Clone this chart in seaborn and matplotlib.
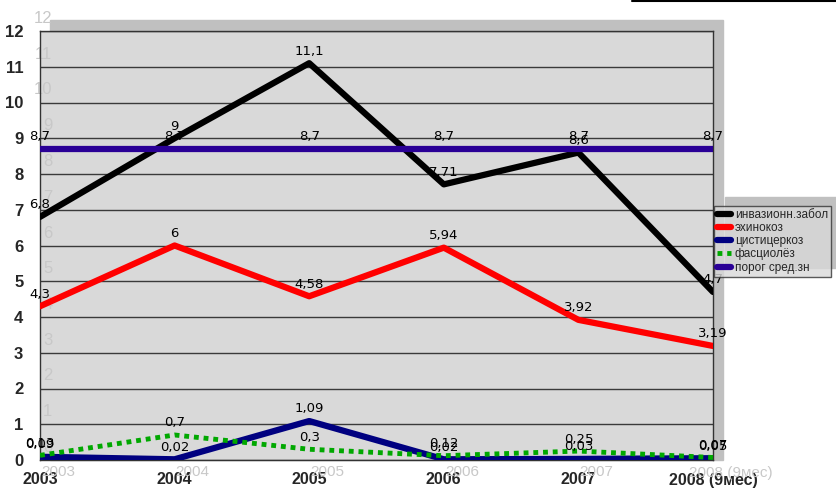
import numpy as np
import pandas as pd
import matplotlib
matplotlib.use("Agg")
import matplotlib.pyplot as plt
import seaborn as sns
from matplotlib.patches import Rectangle
from matplotlib.lines import Line2D

years = ["2003", "2004", "2005", "2006", "2007", "2008 (9мес)"]
invaz = [6.8, 9, 11.1, 7.71, 8.6, 4.7]
echino = [4.3, 6, 4.58, 5.94, 3.92, 3.19]
cysti = [0.09, 0.02, 1.09, 0.02, 0.03, 0.05]
fasci = [0.13, 0.7, 0.3, 0.12, 0.25, 0.07]
porog = [8.7, 8.7, 8.7, 8.7, 8.7, 8.7]

series_names = ["инвазионн.забол", "эхинокоз", "цистицеркоз", "фасциолёз", "порог сред.зн"]
series_vals = [invaz, echino, cysti, fasci, porog]
colors = ["#000000", "#FF0000", "#000080", "#00A800", "#2A0096"]
widths = [4.5, 4.5, 4.5, 3.5, 4.5]

rows = []
for name, vals in zip(series_names, series_vals):
    for i, v in enumerate(vals):
        rows.append({"x": i, "year": years[i], "value": v, "series": name})
df = pd.DataFrame(rows)

sns.set_style("white")
plt.rcParams["font.family"] = ["Liberation Sans", "DejaVu Sans"]

fig = plt.figure(figsize=(8.37, 4.93), dpi=100)
W, H = 837, 493

def fx(px):
    return px / W

def fy(py):
    return 1 - py / H

# shadow frames behind plot and legend
fig.patches.append(Rectangle((fx(50), fy(460)), fx(723) - fx(50), fy(20) - fy(460),
                             transform=fig.transFigure, color="#C0C0C0", zorder=-5))
fig.patches.append(Rectangle((fx(725), fy(268)), fx(837) - fx(725), fy(197) - fy(268),
                             transform=fig.transFigure, color="#C0C0C0", zorder=-5))
fig.lines.append(Line2D([fx(632), fx(837)], [fy(1), fy(1)], transform=fig.transFigure,
                        color="black", lw=1.5))

ax = fig.add_axes([fx(40), fy(460), fx(713) - fx(40), fy(31) - fy(460)])
ax.set_zorder(2)
ax.set_facecolor("#D9D9D9")

order = [0, 1, 4, 2, 3]
for k in order:
    sub = df[df["series"] == series_names[k]]
    sns.lineplot(data=sub, x="x", y="value", ax=ax, color=colors[k], linewidth=widths[k],
                 label=series_names[k], legend=False, zorder=3 + k,
                 linestyle=(0, (1, 1)) if k == 3 else "-")

ax.set_xlim(0, 5)
ax.set_ylim(0, 12)
ax.set_yticks(range(13))
ax.set_xticks(range(6))
ax.set_yticklabels([str(i) for i in range(13)], fontsize=12, fontweight="bold")
ax.set_xticklabels(years, fontsize=11.5, fontweight="bold")
ax.tick_params(axis="y", length=4, pad=8)
ax.tick_params(axis="x", length=4, pad=5)
ax.grid(axis="y", color="#3A3A3A", linewidth=1)
ax.set_axisbelow(True)
ax.set_xlabel("")
ax.set_ylabel("")
for s in ["left", "right", "top", "bottom"]:
    ax.spines[s].set_color("#333333")
    ax.spines[s].set_linewidth(1)

# ghost labels
for i in range(13):
    ax.annotate(str(i), (0, i), xytext=(9, 9), textcoords="offset points",
                ha="right", va="center", fontsize=12, color="#C8C8C8",
                annotation_clip=False, zorder=1)
for i, y in enumerate(years):
    ax.annotate(y, (i, 0), xytext=(13, -9), textcoords="offset points",
                ha="center", va="center", fontsize=11, color="#C8C8C8",
                annotation_clip=False, zorder=1)

# data labels
for k, vals in enumerate(series_vals):
    for i, v in enumerate(vals):
        txt = ("%g" % v).replace(".", ",")
        ax.annotate(txt, (i, v), xytext=(0, 4), textcoords="offset points",
                    ha="center", va="bottom", fontsize=9.5, color="black",
                    family=["Liberation Sans Narrow", "DejaVu Sans"],
                    annotation_clip=False, zorder=10)

handles, labels = ax.get_legend_handles_labels()
hmap = dict(zip(labels, handles))
leg = fig.legend([hmap[n] for n in series_names], series_names,
                 loc="upper left", bbox_to_anchor=(fx(714), fy(206)),
                 frameon=True, fancybox=False, fontsize=8.5, handlelength=1.2,
                 handletextpad=0.3, borderpad=0.25, labelspacing=0.1,
                 borderaxespad=0)
leg.set_zorder(5)
leg.get_frame().set_facecolor("#D9D9D9")
leg.get_frame().set_edgecolor("#333333")
leg.get_frame().set_linewidth(1)

fig.savefig("out.png", dpi=100)
